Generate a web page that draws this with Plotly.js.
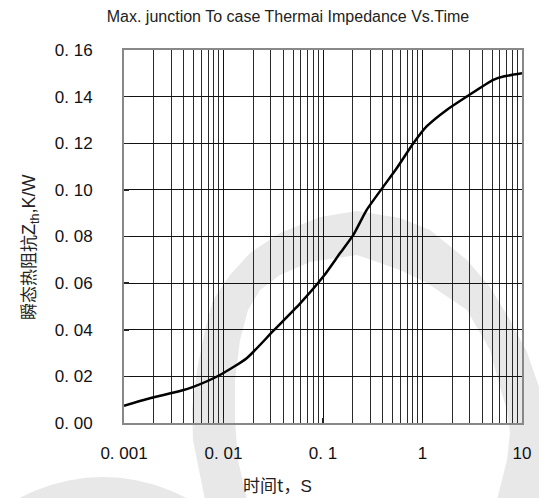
<!DOCTYPE html>
<html>
<head>
<meta charset="utf-8">
<script src="https://cdn.plot.ly/plotly-3.0.1.min.js"></script>
<style>html,body{margin:0;padding:0;background:#fff;}#chart{width:539px;height:498px;}</style>
</head>
<body>
<div id="chart"></div>
<script>
// Data
const timeS = [0.001, 0.00182, 0.00366, 0.00497, 0.0092, 0.0171, 0.0316, 0.0587, 0.1007, 0.148, 0.202, 0.275, 0.404, 0.55, 0.81, 1.10, 1.75, 2.78, 5.15, 6.5, 10];
const zthKW = [0.0074, 0.0106, 0.0137, 0.0155, 0.0206, 0.0278, 0.0395, 0.0512, 0.0628, 0.0728, 0.0807, 0.0914, 0.1014, 0.1093, 0.12, 0.1272, 0.1343, 0.14, 0.1472, 0.1486, 0.15];
const xTickVals = [0.001, 0.01, 0.1, 1, 10];
const xTickText = ["0. 001", "0. 01", "0. 1", "1", "10"];
const yTickVals = [0, 0.02, 0.04, 0.06, 0.08, 0.10, 0.12, 0.14, 0.16];
const yTickText = ["0. 00", "0. 02", "0. 04", "0. 06", "0. 08", "0. 10", "0. 12", "0. 14", "0. 16"];
const chartTitle = "Max. junction To case Thermai Impedance Vs.Time";
const xTitle = "时间t，<span style=\"font-family:Liberation Sans\">S</span>";
const yTitle = "瞬态热阻抗<span style=\"font-family:Liberation Sans;font-size:18px\">Z<sub>th</sub>,K/W</span>";

// minor gridline positions (2..9 within each decade)
const minorVals = [];
[0.001, 0.01, 0.1, 1].forEach(d => { for (let k = 2; k <= 9; k++) minorVals.push(+(d * k).toPrecision(3)); });

// plot area geometry (pixels)
const L = 124, R = 522, T = 50, B = 423;
const W = R - L, H = B - T;
const px = x => ((x - L) / W).toFixed(4);
const py = y => ((B - y) / H).toFixed(4);

// watermark ring (decoration)
const outer = [[205,500],[193,440],[192,410],[197,370],[205,330],[213,300],[230,275],[250,253],[280,233],[320,217],[357,211],[400,218],[430,230],[467,260],[490,287],[510,320],[527,352],[539,387],[548,430],[552,500]];
const inner = [[497,500],[507,460],[510,433],[507,410],[500,387],[490,350],[467,310],[427,283],[400,270],[357,255],[310,262],[280,275],[260,290],[248,310],[240,340],[235,380],[235,420],[238,460],[247,500]];
let ringPath = "M" + outer.map(p => px(p[0]) + "," + py(p[1])).join(" L") + " L" + inner.map(p => px(p[0]) + "," + py(p[1])).join(" L") + " Z";

const shapes = [
  {type: "path", xref: "paper", yref: "paper", path: ringPath, fillcolor: "#e8e8e8", line: {width: 0}, layer: "below"},
  {type: "circle", xref: "paper", yref: "paper", x0: px(103 - 176), x1: px(103 + 176), y0: py(477 + 352), y1: py(477), fillcolor: "#e8e8e8", line: {width: 0}, layer: "below"}
];

const trace = {
  x: timeS, y: zthKW, type: "scatter", mode: "lines",
  line: {color: "#000", width: 2.5, shape: "spline", smoothing: 0.6},
  hoverinfo: "skip", showlegend: false
};

const tickFont = {family: "Liberation Sans, Arial, sans-serif", size: 17, color: "#111"};

const layout = {
  width: 539, height: 498,
  margin: {l: L, r: 539 - R, t: T, b: 498 - B, pad: 0},
  paper_bgcolor: "#fff",
  plot_bgcolor: "rgba(0,0,0,0)",
  title: {text: chartTitle, x: 288 / 539, xref: "container", xanchor: "center", y: 1 - 16 / 498, yref: "container", yanchor: "middle",
          font: {family: "Liberation Sans Narrow, Arial Narrow, sans-serif", size: 16, color: "#222"}},
  xaxis: {
    type: "log", range: [-3, 1],
    tickmode: "array", tickvals: xTickVals, ticktext: xTickText,
    ticks: "inside", ticklen: 5, tickwidth: 1.5, tickcolor: "#222",
    showgrid: true, gridcolor: "#111", gridwidth: 1,
    minor: {tickmode: "array", tickvals: minorVals, showgrid: true, gridcolor: "#2a2a2a", gridwidth: 1, ticks: ""},
    showline: true, mirror: true, linecolor: "#888", linewidth: 2,
    zeroline: false, tickfont: tickFont, ticklabelstandoff: 14
  },
  yaxis: {
    range: [0, 0.16],
    tickmode: "array", tickvals: yTickVals, ticktext: yTickText,
    ticks: "inside", ticklen: 5, tickwidth: 1.5, tickcolor: "#222",
    showgrid: true, gridcolor: "#111", gridwidth: 1,
    showline: true, mirror: true, linecolor: "#888", linewidth: 2,
    zeroline: false, tickfont: tickFont, ticklabelstandoff: 26
  },
  shapes: shapes,
  annotations: [
    {text: xTitle, xref: "paper", yref: "paper", x: px(278), y: py(485), xanchor: "center", yanchor: "middle", showarrow: false,
     font: {family: "Noto Sans CJK SC, Liberation Sans, sans-serif", size: 17, color: "#222"}},
    {text: yTitle, xref: "paper", yref: "paper", x: px(28), y: py(247), xanchor: "center", yanchor: "middle", textangle: -90, showarrow: false,
     font: {family: "Noto Sans CJK SC, Liberation Sans, sans-serif", size: 17, color: "#222"}}
  ]
};

Plotly.newPlot("chart", [trace], layout, {displayModeBar: false, staticPlot: true});
</script>
</body>
</html>
